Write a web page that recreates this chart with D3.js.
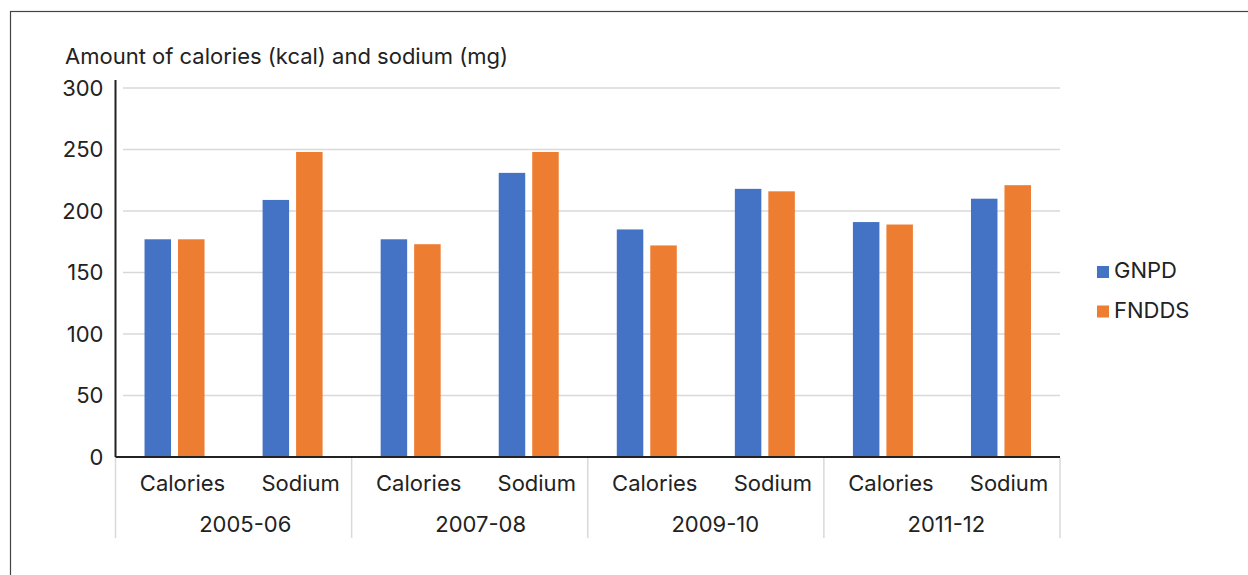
<!DOCTYPE html>
<html>
<head>
<meta charset="utf-8">
<script src="https://cdn.jsdelivr.net/npm/d3@7/dist/d3.min.js"></script>
<style>
  html, body { margin: 0; padding: 0; background: #fff; }
  svg { display: block; }
  text { font-family: Inter, Roboto, sans-serif; fill: #222; }
</style>
</head>
<body>
<svg id="chart" width="1248" height="575"></svg>
<script>
// Survey periods and the two nutrients measured in each
const periods = ["2005-06", "2007-08", "2009-10", "2011-12"];
const nutrients = ["Calories", "Sodium"];
const seriesNames = ["GNPD", "FNDDS"];
const seriesColors = ["#4472C4", "#ED7D31"];

// Values per period, ordered Calories then Sodium
const gnpdValues = [177, 209, 177, 231, 185, 218, 191, 210];
const fnddsValues = [177, 248, 173, 248, 172, 216, 189, 221];

const yTicks = [0, 50, 100, 150, 200, 250, 300];
const yTitle = "Amount of calories (kcal) and sodium (mg)";

const fontSize = 22;
const svg = d3.select("#chart");

// Frame around the figure
svg.append("rect")
  .attr("x", 10.5).attr("y", 11.5)
  .attr("width", 1300).attr("height", 700)
  .attr("fill", "none").attr("stroke", "#444").attr("stroke-width", 1.2);

const plotLeft = 115.5, plotRight = 1060, plotTop = 88, plotBottom = 457;

const rows = [];
periods.forEach((p, i) => {
  nutrients.forEach((n, j) => {
    const k = i * nutrients.length + j;
    rows.push({ period: p, nutrient: n, values: [gnpdValues[k], fnddsValues[k]] });
  });
});

const x0 = d3.scaleBand().domain(periods).range([plotLeft, plotRight]);
const x1 = d3.scaleBand().domain(nutrients).range([0, x0.bandwidth()]);
const barW = 26.5, barGap = 7;
const xs = d3.scaleBand().domain(seriesNames).range([0, barW * 2 + barGap]).paddingInner(barGap / (barW + barGap));

const y = d3.scaleLinear().domain([0, 300]).range([plotBottom, plotTop]);

// Gridlines
svg.append("g")
  .selectAll("line")
  .data(yTicks.filter(t => t > 0))
  .join("line")
  .attr("x1", 123).attr("x2", plotRight)
  .attr("y1", d => y(d)).attr("y2", d => y(d))
  .attr("stroke", "#d9d9d9").attr("stroke-width", 1.5);

// Bars
const groups = svg.append("g")
  .selectAll("g")
  .data(rows)
  .join("g")
  .attr("transform", d => `translate(${x0(d.period) + x1(d.nutrient) + (x1.bandwidth() - (barW * 2 + barGap)) / 2},0)`);

groups.selectAll("rect")
  .data(d => d.values.map((v, s) => ({ v, s: seriesNames[s], c: seriesColors[s] })))
  .join("rect")
  .attr("x", d => xs(d.s))
  .attr("width", xs.bandwidth())
  .attr("y", d => y(d.v))
  .attr("height", d => y(0) - y(d.v))
  .attr("fill", d => d.c);

// Y axis
const yAxis = d3.axisLeft(y).tickValues(yTicks).tickSize(0).tickPadding(12);
const yg = svg.append("g").attr("transform", `translate(${plotLeft},0)`).call(yAxis);
yg.select(".domain").remove();
yg.selectAll("text").attr("font-size", fontSize).attr("font-family", "Inter, Roboto, sans-serif").attr("fill", "#222");
svg.append("line")
  .attr("x1", plotLeft).attr("x2", plotLeft).attr("y1", 80).attr("y2", plotBottom)
  .attr("stroke", "#222").attr("stroke-width", 2);

// X baseline
svg.append("line")
  .attr("x1", plotLeft).attr("x2", plotRight).attr("y1", plotBottom).attr("y2", plotBottom)
  .attr("stroke", "#222").attr("stroke-width", 2);

// Period separators
const bounds = periods.map(p => x0(p)).concat([plotRight]);
svg.append("g").selectAll("line")
  .data(bounds)
  .join("line")
  .attr("x1", d => d).attr("x2", d => d)
  .attr("y1", plotBottom + 1).attr("y2", 538)
  .attr("stroke", "#d9d9d9").attr("stroke-width", 1.5);

// Nutrient labels
svg.append("g").selectAll("text")
  .data(rows)
  .join("text")
  .attr("x", d => x0(d.period) + x1(d.nutrient) + x1.bandwidth() / 2 + 8)
  .attr("y", 491)
  .attr("text-anchor", "middle")
  .attr("font-size", fontSize)
  .text(d => d.nutrient);

// Period labels
svg.append("g").selectAll("text")
  .data(periods)
  .join("text")
  .attr("x", d => x0(d) + x0.bandwidth() / 2 - 34.4)
  .attr("y", 532)
  .attr("text-anchor", "start")
  .attr("font-size", fontSize)
  .text(d => d);

// Axis title
svg.append("text")
  .attr("x", 65).attr("y", 64)
  .attr("font-size", fontSize)
  .text(yTitle);

// Legend
const legend = svg.append("g").selectAll("g")
  .data(seriesNames)
  .join("g")
  .attr("transform", (d, i) => `translate(1097,${266 + i * 39.5})`);
legend.append("rect")
  .attr("width", 12).attr("height", 12)
  .attr("fill", (d, i) => seriesColors[i]);
legend.append("text")
  .attr("x", 17).attr("y", 12)
  .attr("font-size", fontSize)
  .text(d => d);
</script>
</body>
</html>
